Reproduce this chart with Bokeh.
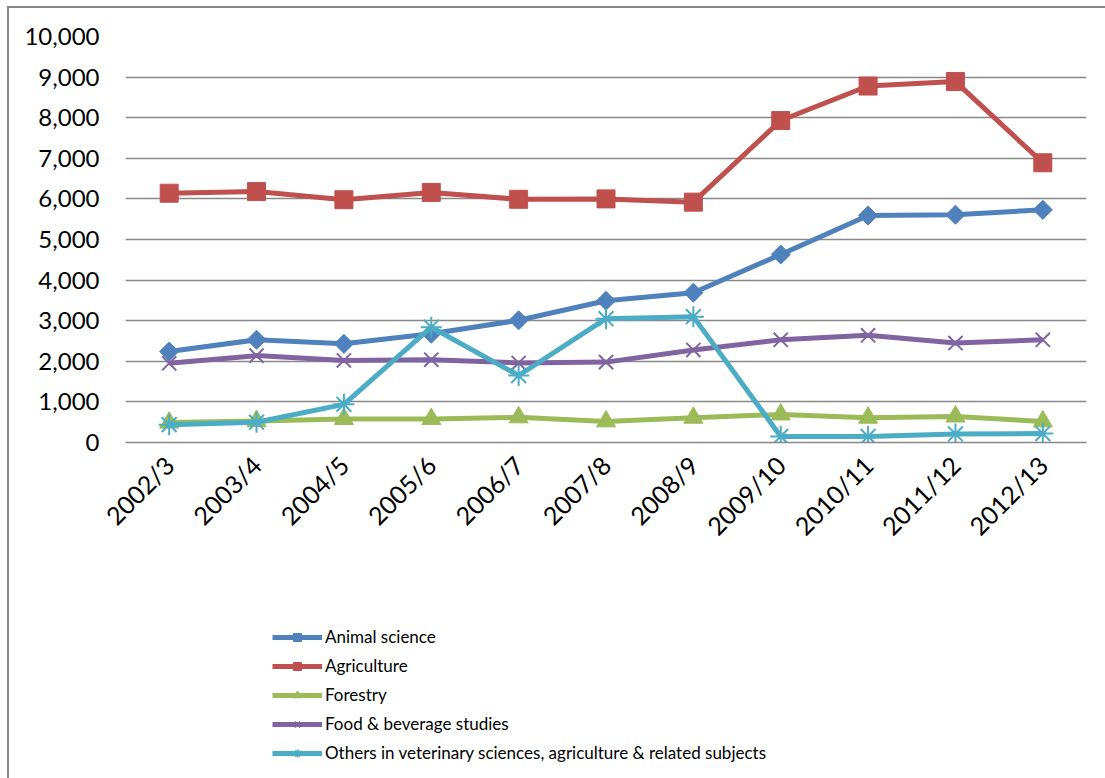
import numpy as np
from bokeh.plotting import figure
from bokeh.layouts import column
from bokeh.models import (Range1d, FactorRange, NumeralTickFormatter, Legend,
                          LegendItem, FixedTicker)
from bokeh.embed import file_html
from bokeh.resources import INLINE

years = ["2002/3", "2003/4", "2004/5", "2005/6", "2006/7", "2007/8",
         "2008/9", "2009/10", "2010/11", "2011/12", "2012/13"]

animal_science = [2240, 2530, 2430, 2680, 3010, 3490, 3690, 4630, 5590, 5610, 5730]
agriculture = [6140, 6180, 5980, 6160, 5990, 6000, 5920, 7930, 8780, 8890, 6890]
forestry = [490, 530, 580, 580, 620, 520, 610, 690, 610, 640, 520]
food_beverage = [1950, 2140, 2020, 2040, 1960, 1980, 2280, 2530, 2640, 2450, 2530]
others = [440, 500, 940, 2840, 1650, 3050, 3100, 150, 150, 210, 220]

y_ticks = [0, 1000, 2000, 3000, 4000, 5000, 6000, 7000, 8000, 9000, 10000]

series = [
    ("Animal science", animal_science, "#4F81BD", "square", 13.5, np.pi / 4),
    ("Agriculture", agriculture, "#C0504D", "square", 18, 0),
    ("Forestry", forestry, "#9BBB59", "triangle", 19, 0),
    ("Food & beverage studies", food_beverage, "#8064A2", "x", 20, 0),
    ("Others in veterinary sciences, agriculture & related subjects", others, "#4BACC6", "asterisk", 21, 0),
]

FONT = "Lato"
GRID = "#888888"


def add_series(fig):
    out = []
    for name, vals, color, marker, size, ang in series:
        lr = fig.line(years, vals, line_color=color, line_width=5)
        if marker in ("x", "asterisk"):
            sr = fig.scatter(years, vals, marker=marker, size=size, line_color=color,
                             line_width=2, fill_color=None)
        else:
            sr = fig.scatter(years, vals, marker=marker, size=size, angle=ang,
                             line_color=color, fill_color=color, line_width=1)
        out.append(LegendItem(label=name, renderers=[lr, sr]))
    return out


# ---- chart ----
p = figure(x_range=FactorRange(factors=years), y_range=Range1d(0, 10000),
           width=1096, height=592, output_backend="svg", toolbar_location=None,
           min_border_left=116, min_border_right=19, min_border_top=28,
           min_border_bottom=158)
p.outline_line_color = None
p.background_fill_color = "white"
p.border_fill_color = "white"

p.xgrid.grid_line_color = None
p.ygrid.grid_line_color = GRID
p.ygrid.grid_line_width = 1.6
p.ygrid.ticker = FixedTicker(ticks=y_ticks)

p.yaxis.ticker = FixedTicker(ticks=y_ticks)
p.yaxis.formatter = NumeralTickFormatter(format="0,0")
p.yaxis.axis_line_color = None
p.yaxis.major_tick_line_color = None
p.yaxis.minor_tick_line_color = None
p.yaxis.major_tick_out = 0
p.yaxis.major_label_standoff = 26
p.yaxis.major_label_text_font = FONT
p.yaxis.major_label_text_font_size = "24px"
p.yaxis.major_label_text_color = "black"

p.xaxis.axis_line_color = GRID
p.xaxis.axis_line_width = 1.6
p.xaxis.major_tick_line_color = None
p.xaxis.minor_tick_line_color = None
p.xaxis.major_tick_out = 0
p.xaxis.major_label_standoff = 18
p.xaxis.major_label_orientation = np.pi / 4
p.xaxis.major_label_text_font = FONT
p.xaxis.major_label_text_font_size = "25px"
p.xaxis.major_label_text_color = "black"

add_series(p)

# ---- legend strip (same series; the data lie outside its visible range) ----
q = figure(x_range=FactorRange(factors=years), y_range=Range1d(20000, 30000),
           width=1096, height=178, output_backend="svg", toolbar_location=None,
           min_border=0, x_axis_location=None, y_axis_location=None)
q.outline_line_color = None
q.grid.visible = False
q.background_fill_color = "white"
q.border_fill_color = "white"

items = add_series(q)
legend = Legend(items=items, location=(147, 15), orientation="vertical",
                glyph_width=50, glyph_height=20, label_height=20,
                spacing=8, padding=0, margin=0, label_standoff=3,
                label_text_font=FONT, label_text_font_size="17px",
                label_text_color="black", border_line_color=None,
                background_fill_alpha=0)
q.add_layout(legend)

layout = column(p, q, spacing=0,
                styles={"margin-left": "7px", "margin-top": "6px",
                        "border-left": "2px solid #888888",
                        "border-top": "2px solid #888888"})

open("out.html", "w").write(file_html(layout, INLINE))
